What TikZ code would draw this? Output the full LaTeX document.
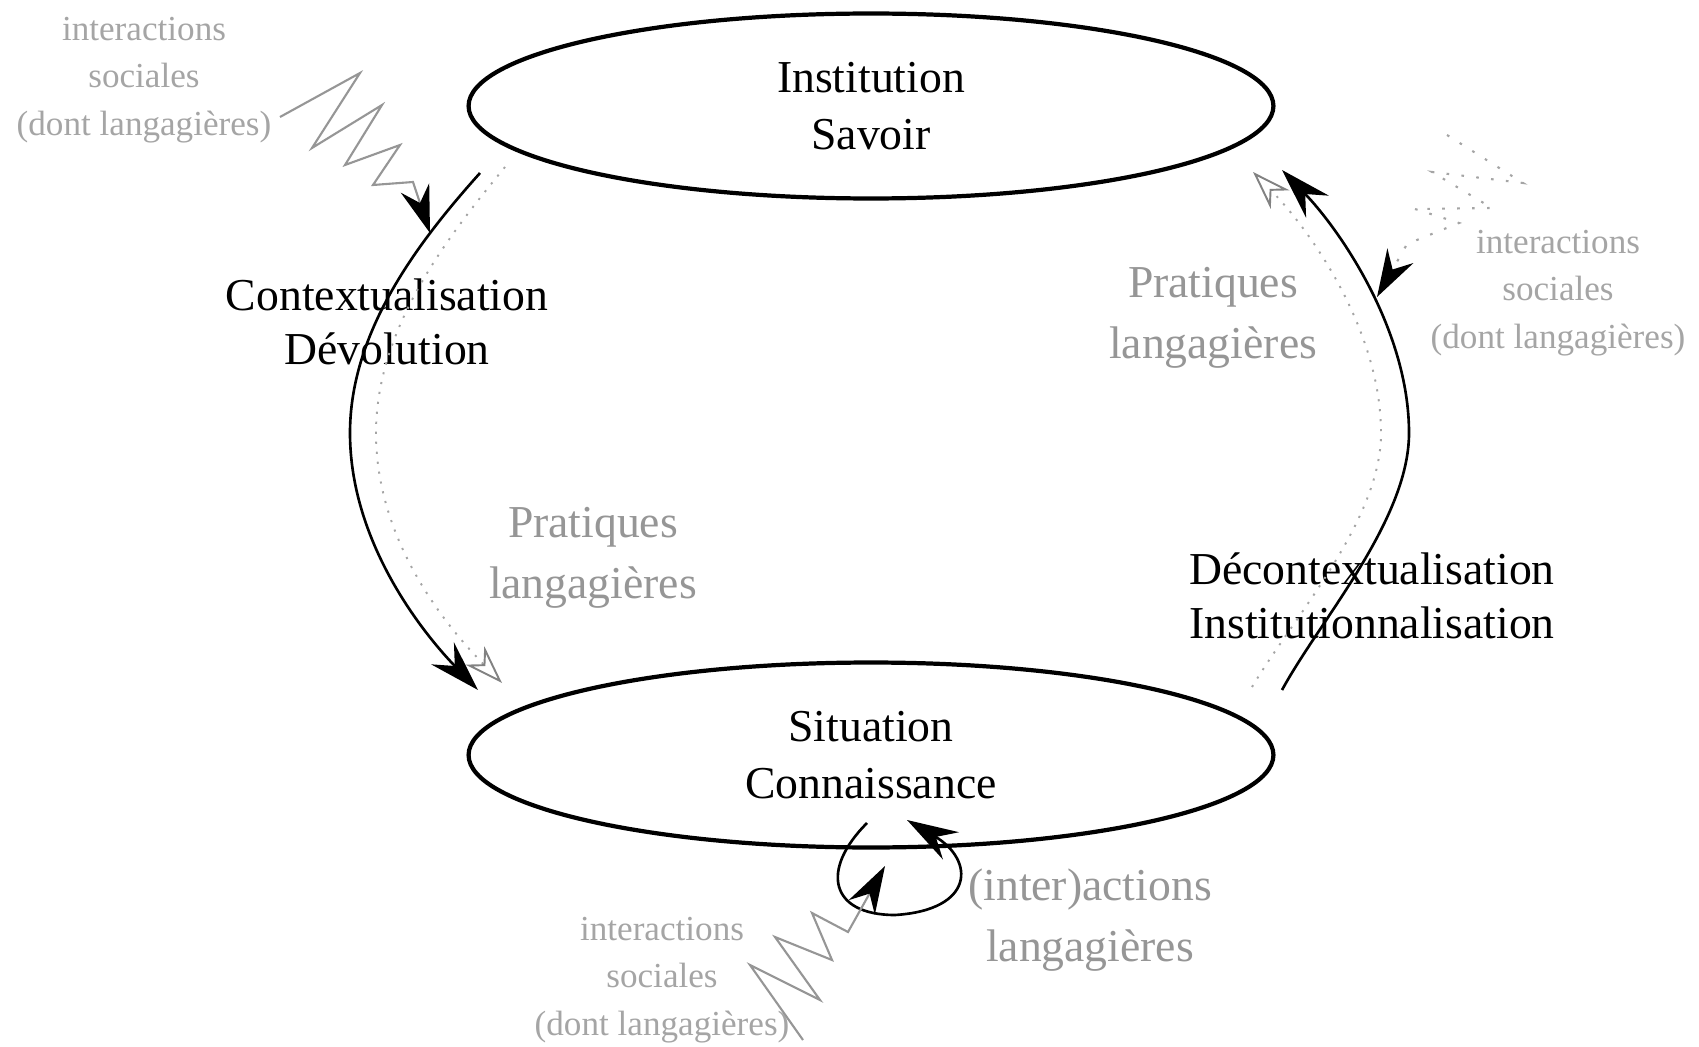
\documentclass[tikz,border=0pt]{standalone}
\usepackage{fontspec}
\setmainfont{Liberation Serif}
\usetikzlibrary{arrows.meta,shapes.geometric}
\definecolor{txtgray}{RGB}{150,150,150}
\definecolor{softgray}{RGB}{165,165,165}
\definecolor{tipgray}{RGB}{130,130,130}

\tikzset{
  pole/.style={draw, ellipse, line width=2.4pt, minimum width=16.1cm, minimum height=3.7cm,
    inner sep=0pt, align=center, font=\fontsize{26}{32}\selectfont},
  phase/.style={align=center, font=\fontsize{26}{31}\selectfont},
  pratique/.style={align=center, text=txtgray, font=\fontsize{26}{35}\selectfont},
  social/.style={align=center, text=softgray, font=\fontsize{20}{27}\selectfont},
  move/.style={line width=1.5pt, -{Stealth[length=29pt,width=18pt,inset=10pt]}},
  trace/.style={softgray, line width=1.1pt, dash pattern=on 1.2pt off 4.5pt,
    -{Stealth[open,color=tipgray,length=22pt,width=15pt,inset=7pt]}},
  zig/.style={txtgray, line width=1.2pt,
    -{Stealth[color=black,length=27pt,width=17pt,inset=9pt]}},
}

\begin{document}
\begin{tikzpicture}[x=0.02cm,y=-0.02cm]
\useasboundingbox (0,0) rectangle (1699,1047);

% the two poles
\node[pole] (inst) at (871,106) {Institution\\Savoir};
\node[pole] (sit) at (871,755) {Situation\\Connaissance};

% texts
\node[phase] (ctx) at (387,322) {Contextualisation\\Dévolution};
\node[phase] (dec) at (1372,596) {Décontextualisation\\Institutionnalisation};
\node[pratique] (prl) at (593,558) {Pratiques\\langagières};
\node[pratique] (prr) at (1213,318) {Pratiques\\langagières};
\node[pratique] (ial) at (1090,920) {(inter)actions\\langagières};
\node[social] (isl) at (144,80) {interactions\\sociales\\(dont langagières)};
\node[social] (isr) at (1558,293) {interactions\\sociales\\(dont langagières)};
\node[social] (isb) at (662,980) {interactions\\sociales\\(dont langagières)};

% ends of the arcs
\coordinate (dl0) at (480,173);
\coordinate (dl1) at (478,690);
\coordinate (tl0) at (505,167);
\coordinate (tl1) at (502,683);
\coordinate (dr0) at (1282,690);
\coordinate (dr1) at (1282,170);
\coordinate (tr0) at (1252,687);
\coordinate (tr1) at (1253,172);
\coordinate (lp0) at (867,823);
\coordinate (lp1) at (907,820);

% dotted arcs
\draw[trace] (tl0) .. controls (445,240) and (376,330) .. (376,433)
  .. controls (376,540) and (445,625) .. (tl1);
\draw[trace] (tr0) .. controls (1295,615) and (1381,520) .. (1381,433)
  .. controls (1381,330) and (1310,230) .. (tr1);

% black arcs
\draw[move] (dl0) .. controls (420,240) and (350,330) .. (350,433)
  .. controls (350,540) and (420,630) .. (dl1);
\draw[move] (dr0) .. controls (1320,620) and (1409,520) .. (1409,433)
  .. controls (1409,330) and (1340,230) .. (dr1);

% loop under the situation
\draw[move] (lp0) .. controls (820,870) and (830,915) .. (895,915)
  .. controls (975,910) and (975,860) .. (lp1);

% social interactions
\draw[zig] (280,117) -- (360,73) -- (312,148) -- (382,105) -- (345,165)
  -- (400,145) -- (373,185) -- (413,182) -- (430,233);
\draw[zig, dash pattern=on 1.5pt off 7pt, softgray] (1447,135) -- (1523,183) -- (1432,172)
  -- (1492,208) -- (1415,209) -- (1459,223) -- (1407,244) -- (1377,297);
\draw[zig] (803,1040) -- (750,965) -- (820,1000) -- (775,937) -- (832,960)
  -- (812,913) -- (848,932) -- (885,866);
\end{tikzpicture}
\end{document}
